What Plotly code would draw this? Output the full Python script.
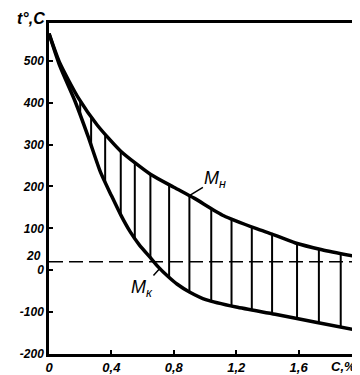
import numpy as np
import plotly.graph_objects as go

# Mн curve (martensite start)
carbon_mn = [0, 0.07, 0.19, 0.31, 0.46, 0.65, 0.80, 0.93, 1.12, 1.33, 1.43, 1.58, 1.75, 2.0]
temp_mn = [565, 494, 410, 346, 284, 229, 198, 172, 130, 99, 86, 65, 49, 30]

# Mк curve (martensite finish)
carbon_mk = [0, 0.07, 0.165, 0.25, 0.33, 0.40, 0.46, 0.52, 0.58, 0.65, 0.70, 0.76,
             0.82, 0.90, 1.01, 1.20, 1.45, 1.71, 2.0]
temp_mk = [565, 487, 405, 320, 234, 178, 132, 92, 60, 30, 8, -14,
           -33, -52, -71, -88, -105, -124, -145]

# hatch positions (carbon %)
hatch_x = [0.20, 0.27, 0.36, 0.46, 0.55, 0.65, 0.77, 0.90, 1.04, 1.17, 1.30,
           1.43, 1.59, 1.73, 1.87]

ref_temp = 20

x_tickvals = [0, 0.4, 0.8, 1.2, 1.6]
x_ticktext = ["0", "0,4", "0,8", "1,2", "1,6"]
x_unit_label = "C,%"
y_tickvals = [-200, -100, 0, 100, 200, 300, 400, 500]
y_ticktext = ["-200", "-100", "0", "100", "200", "300", "400", "500"]
y_ref_label = "20"

font_fam = "Liberation Sans"
tfont = dict(family=font_fam, size=12, color="black", weight="bold", style="italic")

fig = go.Figure()

# hatches
hx, hy = [], []
for x in hatch_x:
    lo = float(np.interp(x, carbon_mk, temp_mk))
    hi = float(np.interp(x, carbon_mn, temp_mn))
    hx += [x, x, None]
    hy += [lo, hi, None]
fig.add_trace(go.Scatter(x=hx, y=hy, mode="lines",
                         line=dict(color="black", width=2), showlegend=False,
                         hoverinfo="skip"))

# dashed 20 line
fig.add_trace(go.Scatter(x=[0, 2.0], y=[ref_temp, ref_temp], mode="lines",
                         line=dict(color="black", width=1.5, dash="14px,6px"),
                         showlegend=False))

fig.add_trace(go.Scatter(x=carbon_mn, y=temp_mn, mode="lines",
                         line=dict(color="black", width=3.5, shape="spline", smoothing=0.6),
                         name="Mн", showlegend=False))
fig.add_trace(go.Scatter(x=carbon_mk, y=temp_mk, mode="lines",
                         line=dict(color="black", width=3.5, shape="spline", smoothing=0.6),
                         name="Mк", showlegend=False))

lab_font = dict(family=font_fam, size=18, color="black", style="italic")
fig.add_annotation(x=0.90, y=float(np.interp(0.90, carbon_mn, temp_mn)),
                   text="М<sub>н</sub>", showarrow=True, arrowhead=0, arrowwidth=1.5,
                   arrowcolor="black", ax=26, ay=-16, font=lab_font)
fig.add_annotation(x=0.71, y=float(np.interp(0.71, carbon_mk, temp_mk)),
                   text="М<sub>к</sub>", showarrow=True, arrowhead=0, arrowwidth=1.5,
                   arrowcolor="black", ax=-18, ay=20, font=lab_font)

# axis title
fig.add_annotation(xref="paper", yref="paper", x=-0.005, y=1.045, xanchor="right",
                   yanchor="top", text="t°,C", showarrow=False,
                   font=dict(family=font_fam, size=16, color="black", weight="bold",
                             style="italic"))
# "20" label
fig.add_annotation(xref="paper", yref="y", x=-0.02, y=ref_temp, xanchor="right",
                   yanchor="middle", yshift=6, text=y_ref_label, showarrow=False,
                   font=tfont)
# unit label at x end
fig.add_annotation(xref="paper", yref="paper", x=1.0, y=0, xanchor="right",
                   yanchor="top", xshift=-3, yshift=-3, text=x_unit_label,
                   showarrow=False, font=dict(tfont, size=13))

fig.update_xaxes(range=[0, 2.0], tickvals=x_tickvals, ticktext=x_ticktext,
                 showgrid=False, zeroline=False, showline=True, linecolor="black",
                 linewidth=2.5, mirror=True, ticks="inside", ticklen=4, tickwidth=1.5,
                 tickcolor="black", tickfont=dict(tfont, size=13))
fig.update_yaxes(range=[-200, 590], tickvals=y_tickvals, ticktext=y_ticktext,
                 showgrid=False, zeroline=False, showline=True, linecolor="black",
                 linewidth=2.5, mirror=True, ticks="inside", ticklen=4, tickwidth=1.5,
                 tickcolor="black", tickfont=tfont)

fig.update_layout(width=360, height=375, margin=dict(l=41, r=4, t=15, b=29),
                  plot_bgcolor="white", paper_bgcolor="white", showlegend=False)

fig.write_html("out.html")
